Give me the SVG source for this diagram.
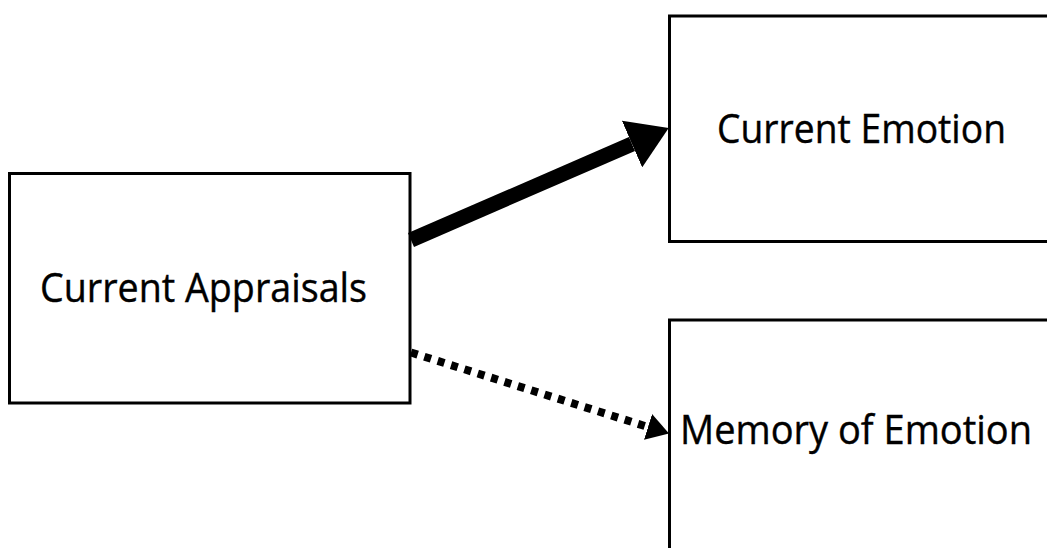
<svg xmlns="http://www.w3.org/2000/svg" width="1047" height="548" viewBox="0 0 1047 548">
<style>
.box{fill:#fff;stroke:#000;stroke-width:3}
.lbl{font-family:"Open Sans","Noto Sans","Liberation Sans",sans-serif;font-size:41px;fill:#000;stroke:#000;stroke-width:0.4}
</style>
<defs>
<marker id="headBig" markerUnits="userSpaceOnUse" viewBox="0 0 40 51" refX="0" refY="25.5" markerWidth="40" markerHeight="51" orient="auto">
<polygon points="0,0 40,25.5 0,51" fill="#000"/>
</marker>
<marker id="headSmall" markerUnits="userSpaceOnUse" viewBox="0 0 22 27" refX="0" refY="13.5" markerWidth="22" markerHeight="27" orient="auto">
<polygon points="0,0 22,13.5 0,27" fill="#000"/>
</marker>
</defs>
<rect width="1047" height="548" fill="#fff"/>
<g id="node-appraisals">
<rect class="box" x="9.5" y="173.5" width="400.5" height="229.5"/>
<text class="lbl" x="40" y="302" textLength="327" lengthAdjust="spacingAndGlyphs">Current Appraisals</text>
</g>
<g id="node-current-emotion">
<rect class="box" x="669.5" y="16" width="400" height="225.5"/>
<text class="lbl" x="717" y="143" textLength="289" lengthAdjust="spacingAndGlyphs">Current Emotion</text>
</g>
<g id="node-memory">
<rect class="box" x="669.5" y="320" width="400" height="260"/>
<text class="lbl" x="680" y="444" textLength="352" lengthAdjust="spacingAndGlyphs">Memory of Emotion</text>
</g>
<g id="connectors">
<line x1="411" y1="240" x2="632" y2="144" stroke="#000" stroke-width="15" marker-end="url(#headBig)"/>
<line x1="411" y1="352.5" x2="648" y2="427" stroke="#000" stroke-width="8" stroke-dasharray="7 7" marker-end="url(#headSmall)"/>
</g>
</svg>
